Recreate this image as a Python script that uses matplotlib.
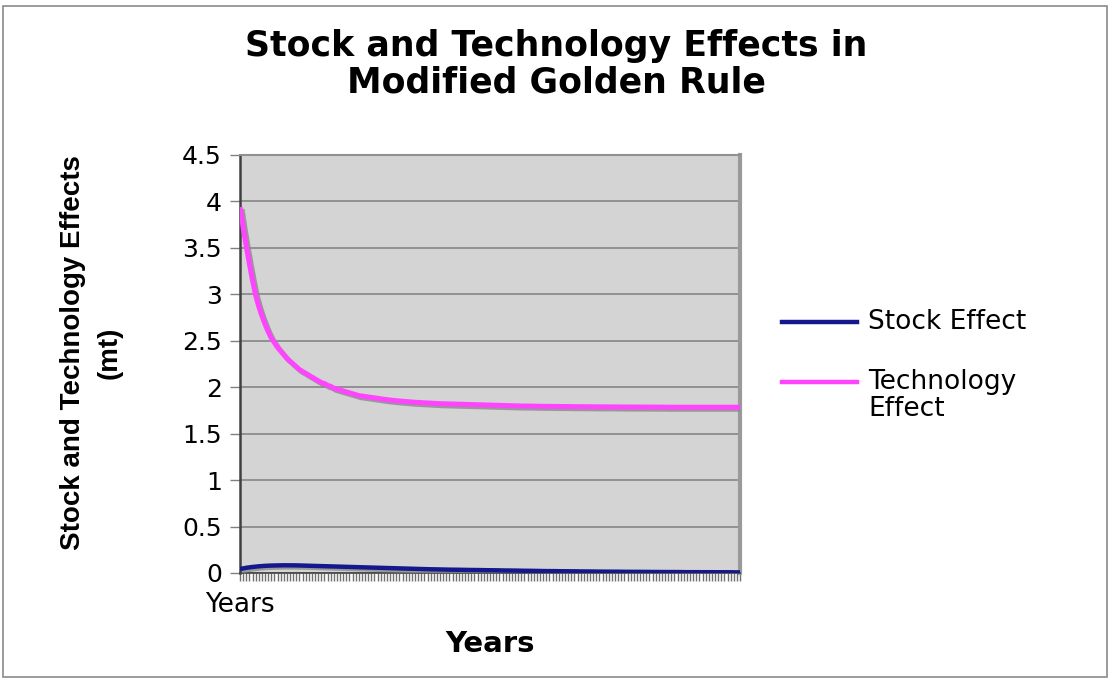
import matplotlib
matplotlib.use('Agg')
import matplotlib.pyplot as plt
import matplotlib.patheffects as pe
from matplotlib.lines import Line2D
from matplotlib.patches import Rectangle

# values, one per year
technology_effect = [
    3.94, 3.72, 3.52, 3.33, 3.15, 2.99, 2.87, 2.77, 2.68, 2.60,
    2.53, 2.48, 2.43, 2.39, 2.35, 2.31, 2.28, 2.25, 2.22, 2.19,
    2.17, 2.15, 2.13, 2.11, 2.09, 2.07, 2.05, 2.04, 2.02, 2.01,
    1.99, 1.98, 1.97, 1.96, 1.95, 1.94, 1.93, 1.92, 1.91, 1.905,
    1.900, 1.895, 1.890, 1.885, 1.880, 1.875, 1.870, 1.866, 1.862, 1.858,
    1.855, 1.852, 1.849, 1.846, 1.843, 1.840, 1.838, 1.836, 1.834, 1.832,
    1.830, 1.828, 1.826, 1.825, 1.823, 1.822, 1.820, 1.819, 1.818, 1.817,
    1.816, 1.815, 1.814, 1.813, 1.812, 1.811, 1.810, 1.809, 1.808, 1.807,
    1.806, 1.805, 1.804, 1.803, 1.802, 1.801, 1.800, 1.800, 1.799, 1.799,
    1.798, 1.798, 1.797, 1.797, 1.796, 1.796, 1.795, 1.795, 1.794, 1.794,
    1.793, 1.793, 1.793, 1.792, 1.792, 1.792, 1.791, 1.791, 1.791, 1.790,
    1.790, 1.790, 1.790, 1.789, 1.789, 1.789, 1.789, 1.788, 1.788, 1.788,
    1.788, 1.788, 1.787, 1.787, 1.787, 1.787, 1.787, 1.787, 1.786, 1.786,
    1.786, 1.786, 1.786, 1.786, 1.786, 1.786, 1.785, 1.785, 1.785, 1.785,
    1.785, 1.785, 1.785, 1.785, 1.785, 1.785, 1.785, 1.785, 1.785, 1.785,
    1.785, 1.785, 1.785, 1.785, 1.785, 1.785, 1.785, 1.785, 1.785, 1.785,
    1.785,
]
stock_effect = [
    0.043, 0.050, 0.056, 0.061, 0.065, 0.069, 0.072, 0.075, 0.077, 0.079,
    0.080, 0.081, 0.082, 0.082, 0.083, 0.083, 0.083, 0.082, 0.082, 0.081,
    0.080, 0.079, 0.078, 0.077, 0.076, 0.075, 0.074, 0.073, 0.072, 0.071,
    0.070, 0.069, 0.068, 0.067, 0.066, 0.065, 0.064, 0.063, 0.062, 0.060,
    0.059, 0.058, 0.057, 0.056, 0.055, 0.054, 0.053, 0.052, 0.051, 0.050,
    0.049, 0.048, 0.047, 0.046, 0.046, 0.045, 0.044, 0.043, 0.042, 0.042,
    0.041, 0.040, 0.040, 0.039, 0.038, 0.038, 0.037, 0.036, 0.036, 0.035,
    0.035, 0.034, 0.034, 0.033, 0.033, 0.032, 0.032, 0.031, 0.031, 0.030,
    0.030, 0.029, 0.029, 0.028, 0.028, 0.027, 0.027, 0.026, 0.026, 0.025,
    0.025, 0.024, 0.024, 0.023, 0.023, 0.022, 0.022, 0.021, 0.021, 0.021,
    0.020, 0.020, 0.019, 0.019, 0.019, 0.018, 0.018, 0.018, 0.017, 0.017,
    0.017, 0.016, 0.016, 0.016, 0.015, 0.015, 0.015, 0.015, 0.014, 0.014,
    0.014, 0.014, 0.013, 0.013, 0.013, 0.013, 0.012, 0.012, 0.012, 0.012,
    0.012, 0.011, 0.011, 0.011, 0.011, 0.011, 0.010, 0.010, 0.010, 0.010,
    0.010, 0.010, 0.009, 0.009, 0.009, 0.009, 0.009, 0.009, 0.009, 0.008,
    0.008, 0.008, 0.008, 0.008, 0.008, 0.008, 0.008, 0.008, 0.007, 0.007,
    0.007,
]
years = list(range(len(technology_effect)))
year_labels = ["Years"] + [""] * (len(years) - 1)
y_ticks = [0, 0.5, 1, 1.5, 2, 2.5, 3, 3.5, 4, 4.5]

STOCK_COLOR = "#14188c"
TECH_COLOR = "#ff44ff"

fig = plt.figure(figsize=(11.12, 6.82), dpi=100)
ax = fig.add_axes([240/1112, 1 - 573/682, 500/1112, 418/682])
ax.set_facecolor("#d4d4d4")

shadow = [pe.SimpleLineShadow(offset=(1.5, -1.5), shadow_color="#8a8a8a", alpha=0.8), pe.Normal()]
ln_stock, = ax.plot(years, stock_effect, color=STOCK_COLOR, lw=3.2, path_effects=shadow,
                    solid_capstyle="butt", zorder=3)
ln_tech, = ax.plot(years, technology_effect, color=TECH_COLOR, lw=3.6, path_effects=shadow,
                   solid_capstyle="butt", zorder=3)

ax.set_xlim(years[0], years[-1])
ax.set_ylim(0, 4.5)
ax.set_yticks(y_ticks)
ax.set_yticklabels([f"{v:g}" for v in y_ticks], fontsize=18)
ax.set_xticks(years)
ax.set_xticklabels(year_labels, fontsize=19)
ax.tick_params(axis="x", length=6, width=1, color="#707070", direction="out", pad=8)
ax.tick_params(axis="y", length=7, width=1, color="#808080", direction="out", pad=6)
ax.grid(axis="y", color="#858585", lw=1.2)
ax.set_axisbelow(True)

ax.spines["left"].set_color("#404040")
ax.spines["left"].set_linewidth(1.8)
ax.spines["bottom"].set_color("#404040")
ax.spines["bottom"].set_linewidth(1.2)
ax.spines["top"].set_color("#909090")
ax.spines["top"].set_linewidth(1.5)
ax.spines["right"].set_color("#9a9a9a")
ax.spines["right"].set_linewidth(3)

ax.set_xlabel("Years", fontsize=21, fontweight="bold", labelpad=8)
fig.text(0.082, 0.483, "Stock and Technology Effects\n(mt)", rotation=90, ha="center", va="center",
         fontsize=20, fontweight="bold", family=["Liberation Sans", "DejaVu Sans"],
         linespacing=1.5, multialignment="center")

fig.suptitle("Stock and Technology Effects in\nModified Golden Rule", x=0.5, y=0.958,
             fontsize=25, fontweight="bold", linespacing=1.1)

# legend drawn by hand so the handle sits next to the first line of each label
for yy, line, label in [(322, ln_stock, "Stock Effect"), (382, ln_tech, "Technology\nEffect")]:
    fig.add_artist(Line2D([782/1112, 857/1112], [1 - yy/682, 1 - yy/682],
                          color=line.get_color(), lw=3.2, transform=fig.transFigure))
    fig.text(868/1112, 1 - (yy - 13)/682, label, ha="left", va="top", fontsize=19, linespacing=1.05)

fig.add_artist(Rectangle((3/1112, 5/682), 1104/1112, 671/682, transform=fig.transFigure,
                         fill=False, edgecolor="#8a8a8a", lw=1.2))

plt.savefig("out.png", dpi=100)
plt.close()
